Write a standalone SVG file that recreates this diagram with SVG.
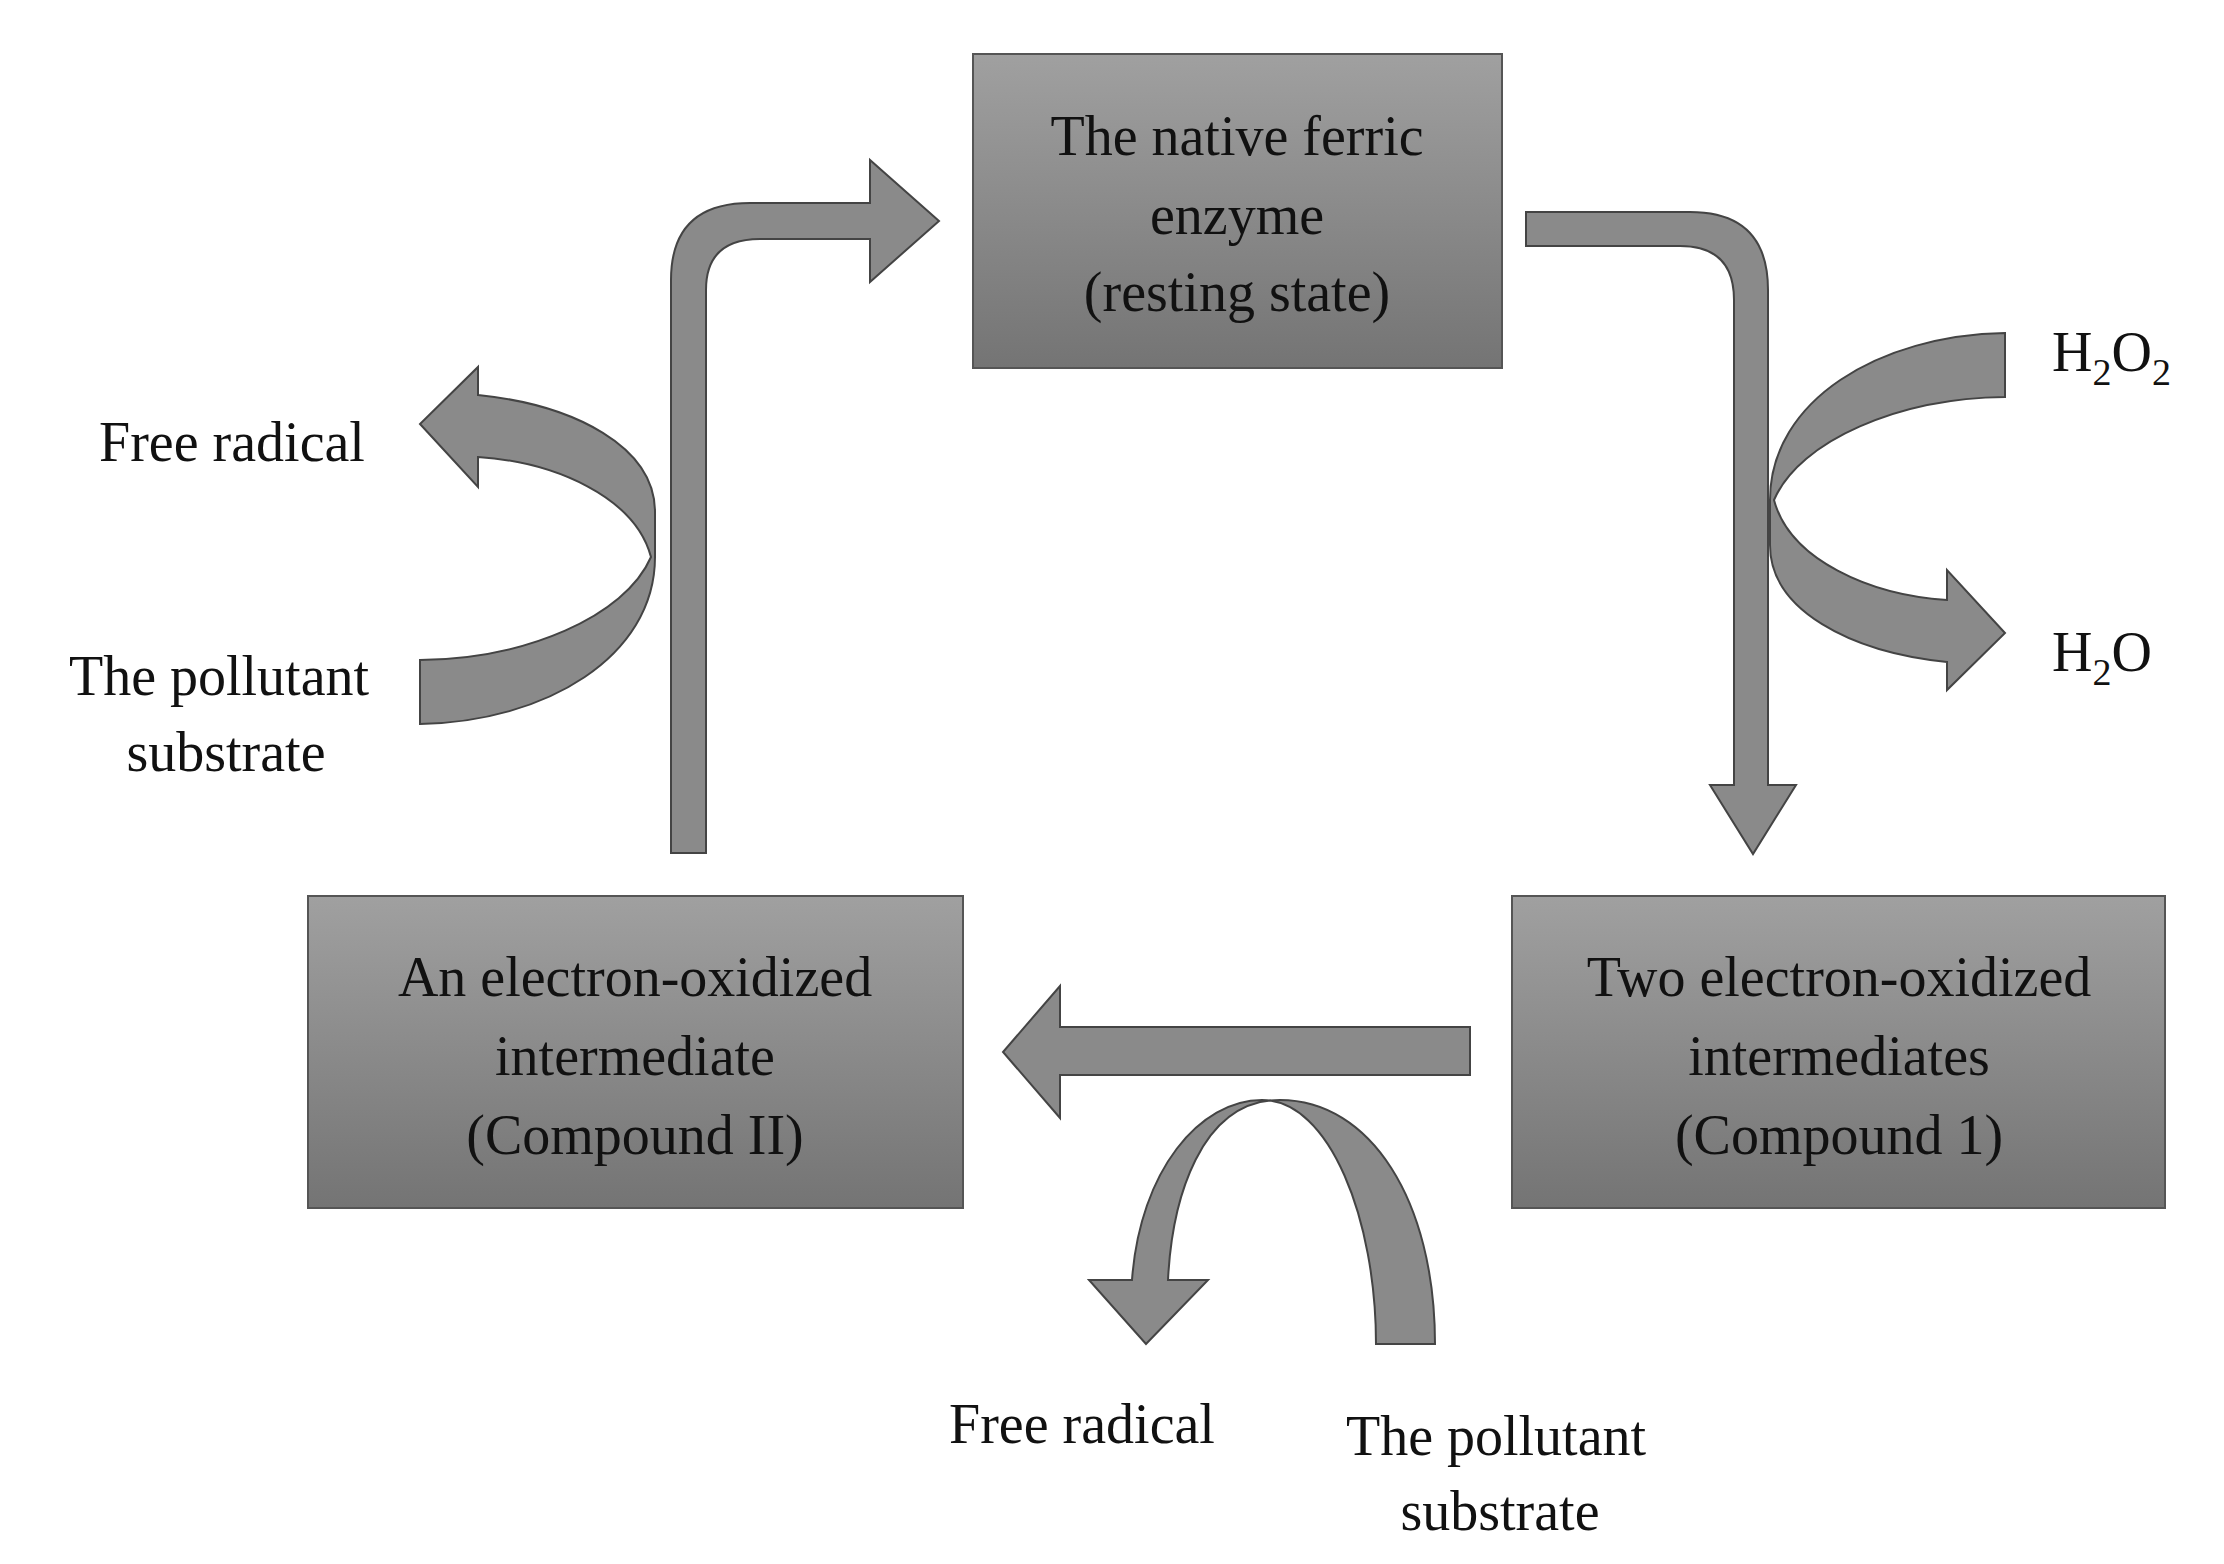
<svg xmlns="http://www.w3.org/2000/svg" width="2224" height="1564" viewBox="0 0 2224 1564">
<defs>
<linearGradient id="bg" x1="0" y1="0" x2="0" y2="1"><stop offset="0" stop-color="#a0a0a0"/><stop offset="1" stop-color="#747474"/></linearGradient>
<linearGradient id="ag" x1="0" y1="0" x2="1" y2="0"><stop offset="0" stop-color="#9a9a9a"/><stop offset="1" stop-color="#7a7a7a"/></linearGradient>
<path id="curl" d="M2005,333 L2005,397 C1900,398 1800,440 1774,500 C1790,560 1870,595 1947,600 L1947,570 L2005,633 L1947,690 L1947,662 C1850,652 1770,610 1770,545 L1770,500 C1770,400 1880,335 2005,333 Z"/>
</defs>
<style>
.box{fill:url(#bg);stroke:#555;stroke-width:2}
.arr{fill:#8a8a8a;stroke:#444;stroke-width:2}
.t{font-family:"Liberation Serif",serif;font-size:56px;fill:#111}
.c{text-anchor:middle}
</style>
<rect width="2224" height="1564" fill="#fff"/>
<g id="connectors">
<path class="arr" d="M671,853 L671,280 Q671,203 750,203 L870,203 L870,160 L939,221 L870,282 L870,239 L760,239 Q706,239 706,290 L706,853 Z"/>
<path class="arr" d="M1526,212 L1690,212 Q1768,212 1768,290 L1768,785 L1796,785 L1753,854 L1710,785 L1734,785 L1734,300 Q1734,246 1680,246 L1526,246 Z"/>
<path class="arr" d="M1470,1027 L1060,1027 L1060,986 L1003,1052 L1060,1118 L1060,1075 L1470,1075 Z"/>
<use href="#curl" class="arr"/>
<use href="#curl" class="arr" transform="rotate(180 1212.5 528.5)"/>
<path class="arr" d="M1376,1344 L1435,1344 C1435,1200 1370,1100 1280,1100 C1200,1100 1172,1200 1168,1280 L1208,1280 L1146,1344 L1089,1280 L1132,1280 C1140,1170 1200,1100 1262,1100 C1330,1100 1376,1220 1376,1344 Z"/>
</g>
<g id="n1"><rect class="box" x="973" y="54" width="529" height="314"/>
<text class="t c" x="1237" y="155">The native ferric</text><text class="t c" x="1237" y="234">enzyme</text><text class="t c" x="1237" y="311">(resting state)</text></g>
<g id="n2"><rect class="box" x="1512" y="896" width="653" height="312"/>
<text class="t c" x="1839" y="996">Two electron-oxidized</text><text class="t c" x="1839" y="1075">intermediates</text><text class="t c" x="1839" y="1154">(Compound 1)</text></g>
<g id="n3"><rect class="box" x="308" y="896" width="655" height="312"/>
<text class="t c" x="635" y="996">An electron-oxidized</text><text class="t c" x="635" y="1075">intermediate</text><text class="t c" x="635" y="1154">(Compound II)</text></g>
<g id="labels">
<text class="t c" x="232" y="461">Free radical</text>
<text class="t c" x="219" y="695">The pollutant</text><text class="t c" x="226" y="771">substrate</text>
<text class="t" x="2052" y="371">H<tspan font-size="38" dy="14">2</tspan><tspan dy="-14">O</tspan><tspan font-size="38" dy="14">2</tspan></text>
<text class="t" x="2052" y="671">H<tspan font-size="38" dy="14">2</tspan><tspan dy="-14">O</tspan></text>
<text class="t c" x="1082" y="1443">Free radical</text>
<text class="t c" x="1496" y="1455">The pollutant</text><text class="t c" x="1500" y="1530">substrate</text>
</g>
</svg>
